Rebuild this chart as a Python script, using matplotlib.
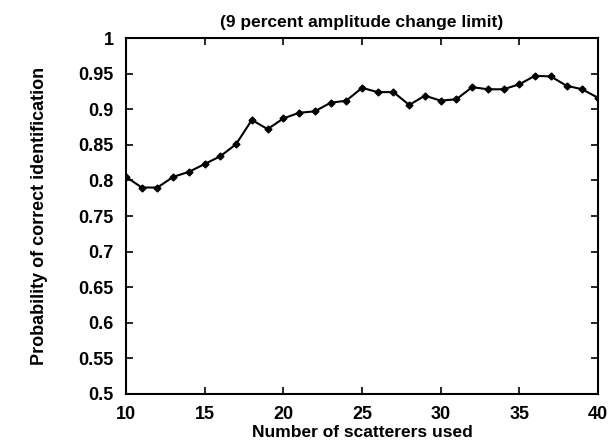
import matplotlib
matplotlib.use("Agg")
import matplotlib.pyplot as plt

# Identification results versus number of scatterers
scatterers = list(range(10, 41))
prob_correct = [0.805, 0.790, 0.790, 0.805, 0.812, 0.823, 0.834, 0.851,
                0.885, 0.872, 0.887, 0.895, 0.897, 0.909, 0.912, 0.930,
                0.924, 0.924, 0.906, 0.919, 0.912, 0.914, 0.931, 0.928,
                0.928, 0.935, 0.947, 0.946, 0.933, 0.928, 0.916]

x_ticks = [10, 15, 20, 25, 30, 35, 40]
y_ticks = [0.5, 0.55, 0.6, 0.65, 0.7, 0.75, 0.8, 0.85, 0.9, 0.95, 1.0]
y_tick_labels = ["0.5", "0.55", "0.6", "0.65", "0.7", "0.75", "0.8",
                 "0.85", "0.9", "0.95", "1"]

plt.rcParams["font.family"] = ["Liberation Sans", "DejaVu Sans"]
plt.rcParams["font.weight"] = "bold"

fig = plt.figure(figsize=(6.12, 4.42), dpi=100)
ax = fig.add_axes([0.2059, 0.1086, 0.7712, 0.8054])

ax.plot(scatterers, prob_correct, color="black", linewidth=1.5,
        marker="D", markersize=3.5)

ax.set_xlim(10, 40)
ax.set_ylim(0.5, 1.0)
ax.set_xticks(x_ticks)
ax.set_xticklabels([str(t) for t in x_ticks])
ax.set_yticks(y_ticks)
ax.set_yticklabels(y_tick_labels)

ax.tick_params(direction="in", top=True, right=True, length=5, width=1.2,
               labelsize=13, pad=9)
for lbl in ax.get_xticklabels() + ax.get_yticklabels():
    lbl.set_fontweight("bold")
for sp in ax.spines.values():
    sp.set_linewidth(1.5)

ax.set_xlabel("Number of scatterers used", fontsize=12.5, fontweight="bold",
              labelpad=1)
ax.set_ylabel("Probability of correct identification", fontsize=13,
              fontweight="bold", labelpad=22)
ax.set_title("(9 percent amplitude change limit)", fontsize=12.5,
             fontweight="bold", pad=8)

fig.savefig("out.png", dpi=100)
